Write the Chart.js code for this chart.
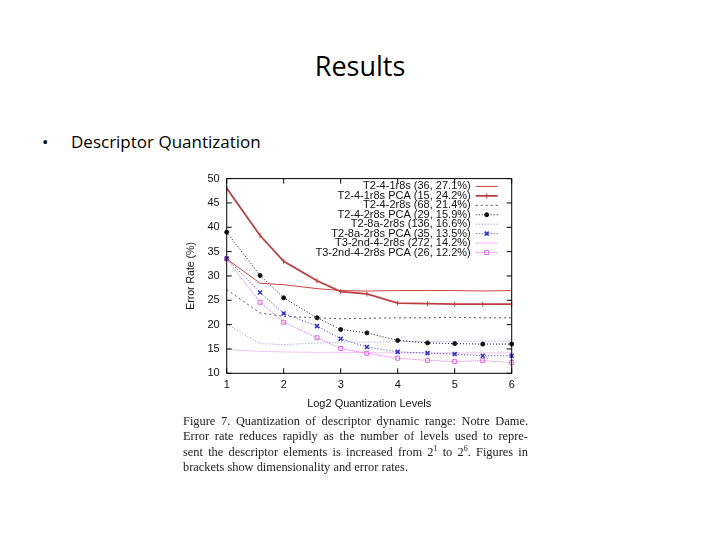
<!DOCTYPE html>
<html><head><meta charset="utf-8">
<script src="https://cdn.jsdelivr.net/npm/chart.js@4/dist/chart.umd.min.js"></script>
<style>
html,body{margin:0;padding:0;background:#fff;width:720px;height:540px;overflow:hidden;position:relative}
#title{position:absolute;left:0;width:720px;top:52px;text-align:center;font:27px/27px "Open Sans",sans-serif;color:#000}
#dot{position:absolute;left:42px;top:133px;font:17px/17px "Open Sans",sans-serif;color:#000}
#bullet{position:absolute;left:71px;top:133px;font:17px/17px "Open Sans",sans-serif;color:#000}
#wrap{position:absolute;left:175px;top:165px;width:360px;height:250px}
#cap{position:absolute;left:183px;top:414px;width:345px;font:12.4px/15.3px "Liberation Serif","Times New Roman",serif;color:#222}
#cap span{display:block;white-space:nowrap;text-align:justify;text-align-last:justify}
#cap span.last{text-align:left;text-align-last:left}
#cap sup{font-size:8px;line-height:0}
</style></head>
<body>
<div id="title">Results</div>
<div id="dot">•</div>
<div id="bullet">Descriptor Quantization</div>
<div id="wrap"><canvas id="c" width="360" height="250" style="width:360px;height:250px"></canvas></div>
<div id="cap">
<span>Figure 7. Quantization of descriptor dynamic range: Notre Dame.</span>
<span>Error rate reduces rapidly as the number of levels used to repre-</span>
<span>sent the descriptor elements is increased from 2<sup>1</sup> to 2<sup>6</sup>. Figures in</span>
<span class="last">brackets show dimensionality and error rates.</span>
</div>
<script>
// Log2 quantization levels (x positions)
const xLevels = [1, 1.585, 2, 2.585, 3, 3.459, 4, 4.524, 5, 5.492, 6];
const yTicks = [10, 15, 20, 25, 30, 35, 40, 45, 50];
const xTicks = [1, 2, 3, 4, 5, 6];

const seriesNames = [
  "T2-4-1r8s (36, 27.1%)",
  "T2-4-1r8s PCA (15, 24.2%)",
  "T2-4-2r8s (68, 21.4%)",
  "T2-4-2r8s PCA (29, 15.9%)",
  "T2-8a-2r8s (136, 16.6%)",
  "T2-8a-2r8s PCA (35, 13.5%)",
  "T3-2nd-4-2r8s (272, 14.2%)",
  "T3-2nd-4-2r8s PCA (26, 12.2%)"
];
const t2_4_1r8s      = [33.5, 28.5, 28.2, 27.4, 27.0, 26.9, 27.0, 27.0, 27.0, 26.9, 27.0];
const t2_4_1r8s_pca  = [48.0, 38.3, 33.0, 29.0, 26.8, 26.3, 24.4, 24.3, 24.2, 24.2, 24.2];
const t2_4_2r8s      = [27.2, 22.4, 21.7, 21.4, 21.2, 21.3, 21.4, 21.4, 21.5, 21.4, 21.4];
const t2_4_2r8s_pca  = [39.0, 30.1, 25.5, 21.4, 19.0, 18.3, 16.75, 16.25, 16.1, 16.0, 16.0];
const t2_8a_2r8s     = [20.1, 16.1, 15.9, 16.2, 16.4, 16.4, 16.5, 16.5, 16.6, 16.6, 16.6];
const t2_8a_2r8s_pca = [33.6, 26.6, 22.3, 19.7, 17.1, 15.4, 14.4, 14.15, 13.95, 13.6, 13.6];
const t3_2nd_4_2r8s  = [14.9, 14.5, 14.4, 14.3, 14.3, 14.25, 14.2, 14.2, 14.2, 14.2, 14.2];
const t3_2nd_pca     = [33.5, 24.6, 20.5, 17.3, 15.1, 14.1, 13.1, 12.65, 12.4, 12.6, 12.2];

const seriesValues = [t2_4_1r8s, t2_4_1r8s_pca, t2_4_2r8s, t2_4_2r8s_pca,
                      t2_8a_2r8s, t2_8a_2r8s_pca, t3_2nd_4_2r8s, t3_2nd_pca];

const styles = [
  {color:'#cc4444', width:1,   dash:[],    point:false, pr:0},
  {color:'#b84040', width:1.8, dash:[],    point:'line', pr:2.5, rot:90},
  {color:'#555555', width:1,   dash:[2,3], point:false, pr:0},
  {color:'#111111', width:1,   dash:[1,2], point:'circle', pr:2, fill:true},
  {color:'#8a8ad8', width:1,   dash:[1,2], point:false, pr:0},
  {color:'#3535c0', width:1,   dash:[1,2], point:'crossRot', pr:2.8},
  {color:'#ee80ee', width:1,   dash:[1,1], point:false, pr:0},
  {color:'#dd66dd', width:1,   dash:[1,1], point:'rect', pr:2.8}
];

const datasets = seriesValues.map((vals, i) => {
  const s = styles[i];
  return {
    label: seriesNames[i],
    data: vals.map((v, j) => ({x: xLevels[j], y: v})),
    borderColor: s.color,
    backgroundColor: s.fill ? s.color : 'rgba(255,255,255,0)',
    borderWidth: s.width,
    borderDash: s.dash,
    pointStyle: s.point || 'circle',
    pointRadius: s.point ? s.pr : 0,
    pointRotation: s.rot || 0,
    pointBorderWidth: s.point === 'crossRot' ? 1.6 : 1,
    pointBorderColor: s.color,
    pointBackgroundColor: s.fill ? s.color : 'rgba(255,255,255,0)',
    tension: 0,
    clip: false
  };
});

const framePlugin = {
  id: 'frame',
  afterDatasetsDraw(chart) {
    const ctx = chart.ctx, a = chart.chartArea;
    const xs = chart.scales.x, ys = chart.scales.y;
    ctx.save();
    ctx.strokeStyle = '#000'; ctx.lineWidth = 1; ctx.setLineDash([]);
    ctx.strokeRect(a.left, a.top, a.right - a.left, a.bottom - a.top);
    ctx.beginPath();
    yTicks.forEach(v => {
      const y = ys.getPixelForValue(v);
      ctx.moveTo(a.left, y); ctx.lineTo(a.left + 5, y);
      ctx.moveTo(a.right, y); ctx.lineTo(a.right - 5, y);
    });
    xTicks.forEach(v => {
      const x = xs.getPixelForValue(v);
      ctx.moveTo(x, a.bottom); ctx.lineTo(x, a.bottom - 5);
      ctx.moveTo(x, a.top); ctx.lineTo(x, a.top + 5);
    });
    ctx.stroke();
    // gnuplot-style key
    ctx.font = '11px "Liberation Sans", Arial, sans-serif';
    ctx.textAlign = 'right'; ctx.textBaseline = 'middle';
    chart.data.datasets.forEach((ds, i) => {
      const y = a.top + 7.8 + i * 9.45;
      ctx.fillStyle = '#111';
      ctx.fillText(ds.label, a.right - 41, y);
      const x0 = a.right - 36, x1 = a.right - 14;
      ctx.strokeStyle = ds.borderColor; ctx.lineWidth = ds.borderWidth;
      ctx.setLineDash(ds.borderDash);
      ctx.beginPath(); ctx.moveTo(x0, y); ctx.lineTo(x1, y); ctx.stroke();
      ctx.setLineDash([]);
      if (ds.pointRadius > 0) {
        ctx.fillStyle = ds.pointBackgroundColor; ctx.strokeStyle = ds.pointBorderColor;
        ctx.lineWidth = ds.pointBorderWidth;
        Chart.helpers.drawPoint(ctx, {pointStyle: ds.pointStyle, radius: ds.pointRadius,
          rotation: ds.pointRotation, borderWidth: ds.pointBorderWidth}, (x0 + x1) / 2, y);
      }
    });
    ctx.restore();
  }
};

new Chart(document.getElementById('c'), {
  type: 'line',
  data: {datasets},
  options: {
    responsive: false, animation: false,
    layout: {padding: {left: 6, right: 23.3, top: 12.5, bottom: 0}},
    plugins: {legend: {display: false}, tooltip: {enabled: false}},
    scales: {
      x: {
        type: 'linear', min: 1, max: 6,
        afterFit(s) { s.height = 41.7; },
        afterBuildTicks(s) { s.ticks = xTicks.map(v => ({value: v})); },
        grid: {display: false, drawTicks: false},
        border: {display: false},
        ticks: {padding: 5, color: '#111', font: {family: '"Liberation Sans", Arial, sans-serif', size: 11}},
        title: {display: true, text: 'Log2 Quantization Levels', color: '#111',
                font: {family: '"Liberation Sans", Arial, sans-serif', size: 11}, padding: {top: 4, bottom: 4}}
      },
      y: {
        type: 'linear', min: 10, max: 50,
        afterFit(s) { s.width = 45.7; },
        afterBuildTicks(s) { s.ticks = yTicks.map(v => ({value: v})); },
        grid: {display: false, drawTicks: false},
        border: {display: false},
        ticks: {padding: 7, color: '#111', font: {family: '"Liberation Sans", Arial, sans-serif', size: 11}},
        title: {display: true, text: 'Error Rate (%)', color: '#111',
                font: {family: '"Liberation Sans", Arial, sans-serif', size: 10.5}, padding: {top: 4, bottom: 4}}
      }
    }
  },
  plugins: [framePlugin]
});
</script>
</body></html>
